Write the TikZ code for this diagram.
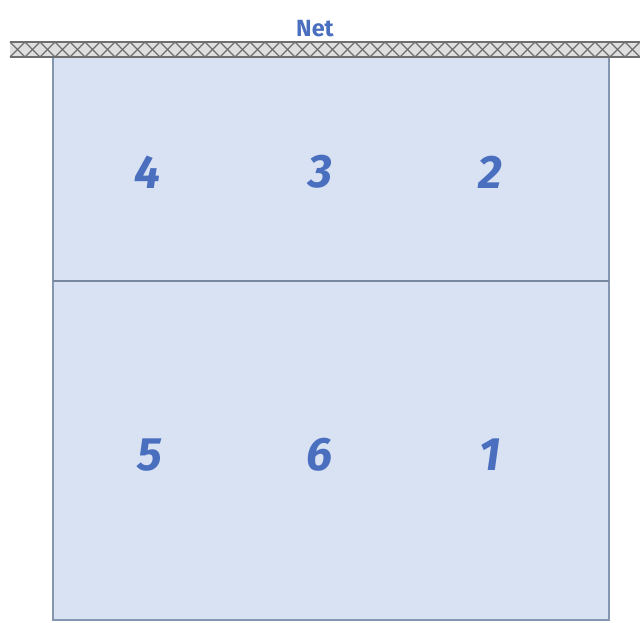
\documentclass[tikz,border=0pt]{standalone}
\usepackage{fontspec}
\setmainfont{Fira Sans}
\usepackage{tikz}

\definecolor{courtfill}{HTML}{D9E2F3}
\definecolor{courtline}{HTML}{8496B0}
\definecolor{numblue}{HTML}{4A6FBF}
\definecolor{netgray}{HTML}{6E6E6E}

\begin{document}
\begin{tikzpicture}[x=0.03cm, y=-0.03cm,
    posnum/.style={text=numblue, font=\fontsize{40}{40}\selectfont\bfseries\itshape},
    netlabel/.style={text=numblue, font=\fontsize{20}{20}\selectfont\bfseries}]
            \useasboundingbox (0,0) rectangle (640,623);
            % court
            \draw[courtline, fill=courtfill, line width=1.2pt] (53,57) rectangle (609,620);
            \draw[courtline!90!black, line width=1.2pt] (53,281) -- (609,281);
            % net
            \fill[gray!25] (10,42) rectangle (640,57);
            \foreach \x in {10,25,...,625} {
                \draw[netgray, line width=1.1pt] (\x,42) -- (\x+15,57);
                \draw[netgray, line width=1.1pt] (\x+15,42) -- (\x,57);
            }
            \draw[netgray, line width=1.1pt] (10,42) -- (640,42);
            \draw[netgray, line width=1.1pt] (10,57) -- (640,57);
            \node[netlabel] (net) at (315,29) {Net};

            \node[posnum] (p4) at (148,172) {4};
            \node[posnum] (p3) at (320,172) {3};
            \node[posnum] (p2) at (490,172) {2};
            \node[posnum] (p5) at (150,455) {5};
            \node[posnum] (p6) at (320,455) {6};
            \node[posnum] (p1) at (490,455) {1};
        \end{tikzpicture}
\end{document}
